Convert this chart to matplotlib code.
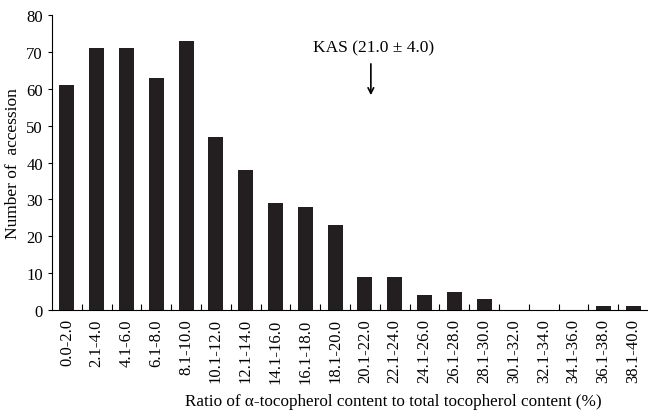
import matplotlib
matplotlib.use("Agg")
import matplotlib.pyplot as plt
import numpy as np

# ratio classes and counts
ranges = ["0.0-2.0", "2.1-4.0", "4.1-6.0", "6.1-8.0", "8.1-10.0", "10.1-12.0",
          "12.1-14.0", "14.1-16.0", "16.1-18.0", "18.1-20.0", "20.1-22.0",
          "22.1-24.0", "24.1-26.0", "26.1-28.0", "28.1-30.0", "30.1-32.0",
          "32.1-34.0", "34.1-36.0", "36.1-38.0", "38.1-40.0"]
counts = [61, 71, 71, 63, 73, 47, 38, 29, 28, 23, 9, 9, 4, 5, 3, 0, 0, 0, 1, 1]

plt.rcParams["font.family"] = ["Liberation Serif", "DejaVu Serif"]

fig = plt.figure(figsize=(6.48, 4.14), dpi=100)
ax = fig.add_axes([52 / 648, 1 - 311 / 414, 596 / 648, 295 / 414])

x = np.arange(len(ranges))
ax.bar(x, counts, width=0.5, color="#231f20")

ax.set_xlim(-0.5, len(ranges) - 0.5)
ax.set_ylim(0, 80)
ax.set_yticks(range(0, 81, 10))
ax.tick_params(axis="y", labelsize=12, length=3, direction="out", width=0.8)

ax.set_xticks(x)
ax.set_xticklabels(ranges, rotation=90, fontsize=12)
ax.tick_params(axis="x", which="major", length=0, pad=6)
ax.set_xticks(x[:-1] + 0.5, minor=True)
ax.tick_params(axis="x", which="minor", length=4, direction="in", width=0.8)

for s in ["top", "right"]:
    ax.spines[s].set_visible(False)
for s in ["left", "bottom"]:
    ax.spines[s].set_linewidth(0.8)

ax.set_ylabel("Number of  accession", fontsize=12.5)
ax.set_xlabel("Ratio of α-tocopherol content to total tocopherol content (%)", fontsize=12.3)
ax.xaxis.set_label_coords(0.573, -0.28)

ax.annotate("", xy=(10.2, 57.5), xytext=(10.2, 67.5),
            arrowprops=dict(arrowstyle="->", color="black", lw=1.2))
ax.text(10.3, 71.2, "KAS (21.0 ± 4.0)", ha="center", va="center", fontsize=12.5)

fig.savefig("out.png", dpi=100)
